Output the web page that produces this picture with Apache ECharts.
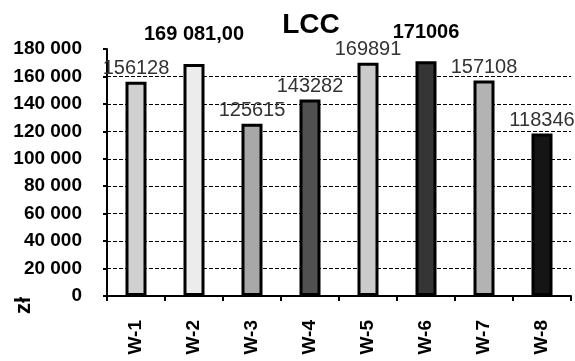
<!DOCTYPE html>
<html><head><meta charset="utf-8">
<script src="https://cdn.jsdelivr.net/npm/echarts@6/dist/echarts.min.js"></script>
<style>html,body{margin:0;padding:0;background:#fff}#c{width:575px;height:361px}</style>
</head><body><div id="c"></div>
<script>
var categories = ['W-1','W-2','W-3','W-4','W-5','W-6','W-7','W-8'];
var values = [156128, 169081, 125615, 143282, 169891, 171006, 157108, 118346];
var labelTexts = ['156128','169 081,00','125615','143282','169891','171006','157108','118346'];
var barColors = ['#d0d0d0','#ececec','#a8a8a8','#505050','#cbcbcb','#353535','#b3b3b3','#151515'];
var emphasized = [1, 5];

var chart = echarts.init(document.getElementById('c'));
var data = values.map(function(v, i){
  var bold = emphasized.indexOf(i) >= 0;
  return {
    value: v,
    itemStyle: {color: barColors[i]},
    label: bold ? {fontWeight:'bold', fontSize:20, color:'#000', distance:19}
                : {fontWeight:'normal', fontSize:20, color:'#333', distance:3}
  };
});
chart.setOption({
  animation:false,
  title:{text:'LCC', left:306, top:6, textAlign:'center',
    textStyle:{fontFamily:'Liberation Sans', fontWeight:'bold', fontSize:28, color:'#000'}},
  grid:{left:107, right:4, top:49, bottom:65, containLabel:false},
  xAxis:{type:'category', data:categories,
    axisLine:{lineStyle:{color:'#000', width:2}},
    axisTick:{show:true, length:5, lineStyle:{color:'#000', width:2}},
    axisLabel:{rotate:90, margin:24, fontFamily:'Liberation Sans', fontWeight:'bold', fontSize:19, color:'#000'}},
  yAxis:{type:'value', min:0, max:180000, interval:20000,
    axisLine:{show:true, lineStyle:{color:'#000', width:2}},
    axisTick:{show:true, length:4, lineStyle:{color:'#000', width:2}},
    splitLine:{show:true, showMinLine:false, showMaxLine:false, lineStyle:{color:'#000', width:1, type:[4,2]}},
    axisLabel:{margin:25, fontFamily:'Liberation Sans', fontWeight:'bold', fontSize:19, color:'#000',
      formatter:function(v){return String(v).replace(/\B(?=(\d{3})+(?!\d))/g,' ');}}},
  graphic:[{type:'text', x:13, y:314, rotation:Math.PI/2,
    style:{text:'zł', font:'bold 22px "Liberation Sans"', fill:'#000'}}],
  series:[{type:'bar', data:data, barWidth:21,
    itemStyle:{borderColor:'#000', borderWidth:3},
    label:{show:true, position:'top', fontFamily:'Liberation Sans',
      formatter:function(p){return labelTexts[p.dataIndex];}}}]
});
</script></body></html>
